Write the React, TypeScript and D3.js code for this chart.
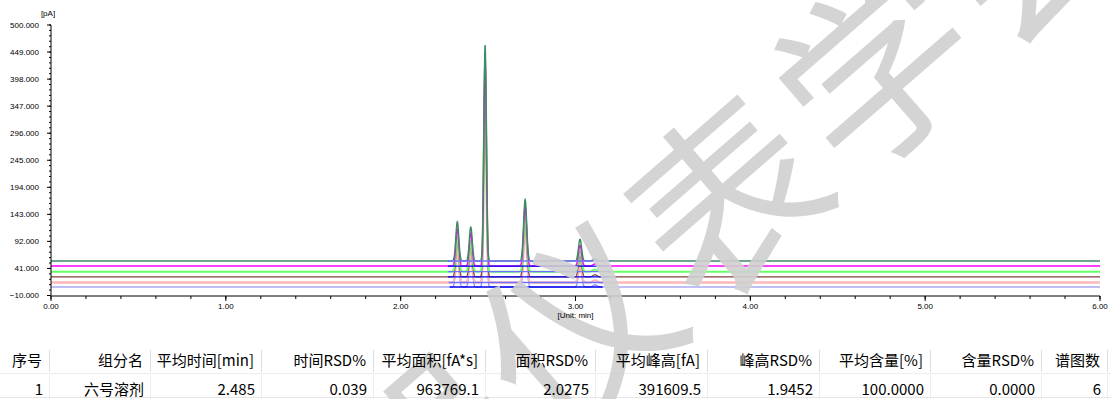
import React from "react";
import * as d3 from "d3";

// ---------- data ----------
const yTickValues = [-10, 41, 92, 143, 194, 245, 296, 347, 398, 449, 500];
const xTickValues = [0, 1, 2, 3, 4, 5, 6];
const yUnit = "[pA]";
const xUnit = "[Unit: min]";

// six overlaid chromatograms (top baseline first)
const traceColors = ["#3d8b63", "#ff00ff", "#66ff66", "#804040", "#ffb8b8", "#8080f0"];
const traceOffsets = [55, 45.5, 35, 25, 14.5, 6];
const peakTimes = [2.324, 2.401, 2.483, 2.712, 3.026, 3.112];
const peakSigmas = [0.0085, 0.0085, 0.0072, 0.009, 0.009, 0.012];
const peakHeightsTrace1 = [74, 64, 407, 116, 41, 4];
const peakHeightsTrace2 = [70, 62, 395, 112, 39, 4];
const peakHeightsTrace3 = [66, 58, 385, 108, 38, 4];
const peakHeightsTrace4 = [68, 60, 390, 110, 40, 4];
const peakHeightsTrace5 = [65, 57, 380, 106, 37, 4];
const peakHeightsTrace6 = [72, 63, 392, 114, 40, 4];
const peakHeights = [
  peakHeightsTrace1,
  peakHeightsTrace2,
  peakHeightsTrace3,
  peakHeightsTrace4,
  peakHeightsTrace5,
  peakHeightsTrace6,
];
const integrationStart = [2.27, 2.27, 2.27, 2.27, 2.275, 2.28];
const integrationEnd = [3.2, 3.19, 3.2, 3.19, 3.16, 3.155];
const integrationColors = ["#7070ff", "#0000ee", "#7070ff", "#0000ee", "#7070ff", "#0000ee"];

const tableHeaders = [
  "序号", "组分名", "平均时间[min]", "时间RSD%", "平均面积[fA*s]", "面积RSD%",
  "平均峰高[fA]", "峰高RSD%", "平均含量[%]", "含量RSD%", "谱图数",
];
const tableRow = [
  "1", "六号溶剂", "2.485", "0.039", "963769.1", "2.0275",
  "391609.5", "1.9452", "100.0000", "0.0000", "6",
];

const watermarkChars = ["器", "仪", "表", "学", "会"];

// ---------- layout ----------
const W = 1111;
const H = 399;
const colRight = [49, 150, 261, 373, 485, 595, 707, 819, 930, 1041, 1107];

export default function App() {
  const x = d3.scaleLinear().domain([0, 6]).range([51, 1100]);
  const y = d3.scaleLinear().domain([-10, 500]).range([295.5, 25]);

  const times = d3.range(0, 6.0005, 0.001);
  const line = d3
    .line<[number, number]>()
    .x((d) => x(d[0]))
    .y((d) => y(d[1]));

  const traces = traceOffsets.map((off, i) =>
    times.map((t) => {
      let v = off;
      peakTimes.forEach((pt, k) => {
        const s = peakSigmas[k];
        const dt = t - pt;
        if (Math.abs(dt) < s * 6) v += peakHeights[i][k] * Math.exp(-(dt * dt) / (2 * s * s));
      });
      return [t, v] as [number, number];
    })
  );

  const traceWidths = [1.4, 1.4, 2, 1.2, 2.4, 1.2];
  const order = [5, 4, 3, 2, 1, 0];

  const yMinor = d3.range(-10, 500.01, 10.2);
  const xMinor = d3.range(0, 6.001, 0.2);

  const axisFont = "'Liberation Sans', Arial, sans-serif";
  const tableFont = "'Noto Sans CJK SC', sans-serif";

  // watermark
  const ang = (-41 * Math.PI) / 180;
  const pitch = 198;
  const c1 = { x: 570, y: 320 }; // centre of second char
  const wm = watermarkChars.map((ch, i) => ({
    ch,
    cx: c1.x + (i - 1) * pitch * Math.cos(ang),
    cy: c1.y + (i - 1) * pitch * Math.sin(ang),
  }));

  return (
    <svg
      width={W}
      height={H}
      style={{ position: "absolute", left: 0, top: 0, background: "#fff" }}
    >
      <rect x={0} y={0} width={W} height={H} fill="#fff" />
      {/* traces */}
      {order.map((i) => (
        <path
          key={"tr" + i}
          d={line(traces[i]) || ""}
          fill="none"
          stroke={traceColors[i]}
          strokeWidth={traceWidths[i]}
        />
      ))}
      {/* integration baselines */}
      {traceOffsets.map((off, i) => (
        <line
          key={"ib" + i}
          x1={x(integrationStart[i])}
          x2={x(integrationEnd[i])}
          y1={y(off)}
          y2={y(off)}
          stroke={integrationColors[i]}
          strokeWidth={1.3}
        />
      ))}

      {/* y axis */}
      <line x1={51} x2={51} y1={y(500)} y2={y(-10)} stroke="#000" strokeWidth={1} />
      {yMinor.map((v, i) => (
        <line key={"ym" + i} x1={49} x2={51} y1={y(v)} y2={y(v)} stroke="#000" strokeWidth={1} />
      ))}
      {yTickValues.map((v) => (
        <g key={"yt" + v}>
          <line x1={47} x2={51} y1={y(v)} y2={y(v)} stroke="#000" strokeWidth={1} />
          <text
            x={39}
            y={y(v)}
            textAnchor="end"
            dominantBaseline="central"
            fontFamily={axisFont}
            fontSize={8}
            fill="#000"
          >
            {d3.format(".3f")(v)}
          </text>
        </g>
      ))}
      <text x={48} y={13} textAnchor="middle" dominantBaseline="central" fontFamily={axisFont} fontSize={8} fill="#000">
        {yUnit}
      </text>

      {/* x axis */}
      <line x1={x(0)} x2={x(6)} y1={296} y2={296} stroke="#000" strokeWidth={1} />
      {xMinor.map((v, i) => (
        <line key={"xm" + i} x1={x(v)} x2={x(v)} y1={296} y2={299} stroke="#000" strokeWidth={1} />
      ))}
      {xTickValues.map((v) => (
        <g key={"xt" + v}>
          <line x1={x(v)} x2={x(v)} y1={296} y2={301} stroke="#000" strokeWidth={1} />
          <text
            x={x(v)}
            y={306}
            textAnchor="middle"
            dominantBaseline="central"
            fontFamily={axisFont}
            fontSize={8}
            fill="#000"
          >
            {d3.format(".2f")(v)}
          </text>
        </g>
      ))}

      {/* table grid */}
      <g>
        {colRight.map((r, i) => (
          <line key={"hs" + i} x1={r + 0.5} x2={r + 0.5} y1={350} y2={372} stroke="#dedede" />
        ))}
        {colRight.map((r, i) => (
          <line key={"rs" + i} x1={r + 0.5} x2={r + 0.5} y1={374} y2={399} stroke="#eeeeee" />
        ))}
        <line x1={0} x2={1111} y1={373.5} y2={373.5} stroke="#eeeeee" />
        <line x1={0} x2={1111} y1={397.5} y2={397.5} stroke="#e6e6e6" />
      </g>

      {/* watermark */}
      <g opacity={0.9}>
        {wm.map((w, i) => (
          <text
            key={"wm" + i}
            x={w.cx}
            y={w.cy}
            textAnchor="middle"
            dominantBaseline="central"
            fontFamily={tableFont}
            fontSize={190}
            fill="#d0d0d0"
            transform={`rotate(-41 ${w.cx} ${w.cy})`}
          >
            {w.ch}
          </text>
        ))}
      </g>

      <text x={x(3)} y={315} textAnchor="middle" dominantBaseline="central" fontFamily={axisFont} fontSize={8} fill="#000">
        {xUnit}
      </text>

      {/* table text above the watermark */}
      <g>
        {tableHeaders.map((h, i) => (
          <text
            key={"th" + i}
            x={colRight[i] - 7}
            y={359}
            textAnchor="end"
            dominantBaseline="central"
            fontFamily={tableFont}
            fontSize={15}
            fill="#000"
          >
            {h}
          </text>
        ))}
        {tableRow.map((h, i) => (
          <text
            key={"tr" + i}
            x={colRight[i] - 6}
            y={388}
            textAnchor="end"
            dominantBaseline="central"
            fontFamily={tableFont}
            fontSize={15}
            fill="#000"
          >
            {h}
          </text>
        ))}
      </g>
    </svg>
  );
}
